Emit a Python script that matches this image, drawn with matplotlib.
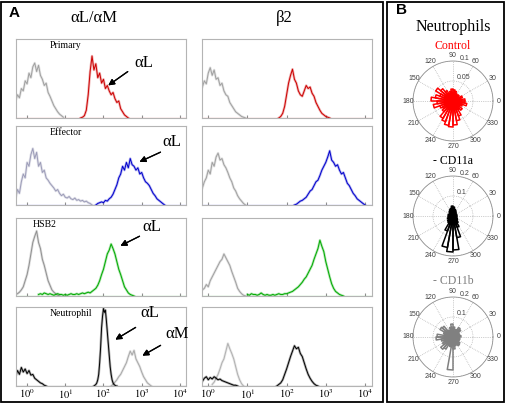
import numpy as np
import matplotlib.pyplot as plt
from matplotlib.patches import Rectangle

plt.rcParams['font.family'] = ['Liberation Serif', 'DejaVu Serif']
plt.rcParams['mathtext.fontset'] = 'stix'

W, H = 506, 403

# ---- flow cytometry histograms: (log10 start, log10 end, counts) ----
# row 1: Primary
prim_iso_L = (-0.3, 0.95, [22, 30, 26, 38, 35, 48, 44, 58, 52, 66, 71, 60, 68, 55, 50, 42, 45, 33, 28, 22, 16, 12, 8, 5, 3, 1])
prim_aL = (1.4, 2.65, [0, 1, 3, 10, 30, 60, 80, 62, 70, 52, 58, 45, 50, 38, 42, 35, 30, 33, 25, 20, 22, 12, 8, 4, 2, 0])
prim_iso_R = (-0.15, 0.95, [40, 48, 44, 58, 65, 55, 62, 50, 52, 42, 45, 35, 30, 28, 20, 16, 12, 8, 6, 4, 2, 1, 0])
prim_b2 = (1.8, 3.1, [0, 2, 6, 15, 30, 45, 55, 63, 50, 45, 35, 30, 28, 35, 42, 38, 40, 32, 28, 20, 15, 10, 6, 4, 2, 1, 0])
# row 2: Effector
eff_iso_L = (-0.3, 1.7, [8, 20, 15, 30, 40, 35, 55, 50, 65, 73, 60, 68, 50, 55, 42, 45, 35, 32, 28, 25, 22, 18, 20, 15, 12,
                         14, 10, 9, 11, 8, 7, 9, 6, 7, 5, 6, 4, 5, 3, 2, 0])
eff_aL = (1.8, 3.6, [0, 2, 3, 4, 3, 6, 5, 8, 10, 14, 20, 26, 35, 40, 50, 45, 55, 48, 60, 52, 50, 45, 48, 40, 42, 35, 30,
                     28, 25, 20, 15, 12, 8, 6, 4, 2, 0])
eff_iso_R = (-0.15, 0.95, [22, 30, 35, 45, 40, 55, 50, 62, 67, 58, 60, 52, 48, 42, 35, 30, 22, 18, 12, 8, 5, 2, 0])
eff_b2 = (2.2, 4.0, [0, 1, 3, 5, 6, 8, 10, 14, 18, 20, 25, 30, 32, 38, 45, 50, 55, 62, 70, 58, 55, 50, 52, 45, 40, 42, 35,
                     28, 25, 20, 15, 12, 8, 6, 4, 2, 0])
# row 3: HSB2
hsb_iso_L = (-0.3, 0.85, [2, 3, 5, 8, 12, 20, 28, 40, 55, 70, 78, 85, 70, 62, 48, 40, 30, 20, 14, 8, 5, 3, 1, 0])
hsb_aL = (0.3, 2.8, [2, 3, 2, 4, 3, 2, 3, 2, 1, 2, 3, 2, 2, 1, 2, 1, 2, 3, 2, 2, 3, 2, 3, 4, 3, 4, 5, 4, 6, 8,
                     10, 14, 20, 28, 35, 45, 55, 60, 68, 62, 55, 45, 35, 28, 20, 12, 8, 4, 2, 1, 0])
hsb_iso_R = (-0.15, 0.95, [8, 10, 15, 12, 20, 25, 30, 35, 40, 45, 48, 55, 50, 45, 40, 32, 25, 18, 10, 6, 3, 1, 0])
hsb_b2 = (1.0, 3.45, [2, 1, 3, 2, 2, 1, 2, 4, 2, 1, 2, 1, 1, 2, 1, 2, 3, 2, 2, 3, 3, 4, 5, 6,
                      8, 10, 12, 15, 18, 22, 25, 30, 35, 40, 48, 55, 62, 73, 65, 58, 45, 35, 25, 16, 10, 6, 4, 2, 1, 0])
# row 4: Neutrophil
neu_iso_L = (-0.3, 0.5, [12, 20, 15, 24, 18, 22, 16, 20, 14, 15, 10, 8, 6, 4, 3, 1, 0])
neu_aL = (1.75, 2.35, [0, 1, 2, 4, 8, 15, 30, 50, 75, 90, 100, 95, 98, 85, 70, 55, 40, 25, 15, 8, 4, 2, 1, 0, 0])
neu_aM = (2.2, 3.25, [0, 2, 5, 8, 12, 15, 20, 25, 30, 38, 45, 40, 46, 35, 30, 25, 18, 12, 8, 4, 2, 0])
neu_iso_R = (-0.15, 0.75, [6, 10, 12, 8, 11, 9, 12, 10, 8, 9, 7, 6, 5, 4, 3, 2, 1, 1, 0])
neu_iso2_R = (0.1, 0.9, [2, 5, 10, 15, 22, 30, 35, 45, 55, 48, 42, 35, 25, 15, 8, 3, 0])
neu_b2 = (1.75, 2.8, [0, 2, 4, 8, 15, 22, 30, 38, 45, 52, 48, 50, 42, 38, 30, 22, 15, 10, 6, 3, 1, 0])

cell_names = ['Primary', 'Effector', 'HSB2', 'Neutrophil']
tick_labels = ['$10^0$', '$10^1$', '$10^2$', '$10^3$', '$10^4$']

# ---- rose plots (36 bins of 10 deg, from 0 deg) ----
rose_control = [0.03, 0.02, 0.025, 0.015, 0.02, 0.018, 0.02, 0.025, 0.028, 0.03, 0.025, 0.02, 0.03, 0.04, 0.05, 0.035,
                0.045, 0.055, 0.04, 0.05, 0.035, 0.03, 0.035, 0.05, 0.055, 0.062, 0.065, 0.06, 0.05, 0.04, 0.025, 0.03,
                0.02, 0.025, 0.035, 0.03]
rose_cd11a = [0.02, 0.015, 0.02, 0.015, 0.02, 0.025, 0.03, 0.035, 0.045, 0.05, 0.04, 0.035, 0.03, 0.025, 0.02, 0.02,
              0.025, 0.02, 0.025, 0.02, 0.03, 0.025, 0.035, 0.04, 0.08, 0.16, 0.18, 0.17, 0.11, 0.06, 0.04, 0.03,
              0.025, 0.02, 0.02, 0.015]
rose_cd11b = [0.04, 0.035, 0.03, 0.035, 0.05, 0.055, 0.04, 0.03, 0.05, 0.065, 0.05, 0.035, 0.04, 0.07, 0.075, 0.05,
              0.045, 0.08, 0.085, 0.06, 0.05, 0.06, 0.08, 0.07, 0.045, 0.05, 0.165, 0.06, 0.045, 0.04, 0.05, 0.045,
              0.03, 0.035, 0.035, 0.03]
angle_ticks = list(range(0, 360, 30))


def px(x, y):
    return x / W, 1 - y / H


def box(x0, y0, x1, y1):
    return [x0 / W, 1 - y1 / H, (x1 - x0) / W, (y1 - y0) / H]


fig = plt.figure(figsize=(W / 100, H / 100), dpi=100)

# panel frames
for (x0, y0, x1, y1) in [(1.5, 1.5, 383, 401.5), (387, 1.5, 504.5, 401.5)]:
    fig.patches.append(Rectangle((x0 / W, 1 - y1 / H), (x1 - x0) / W, (y1 - y0) / H,
                                 transform=fig.transFigure, fill=False, lw=1.3, ec='k'))

fig.text(*px(9, 13), 'A', family='Liberation Sans', weight='bold', fontsize=11, va='center')
fig.text(*px(396, 10), 'B', family='Liberation Sans', weight='bold', fontsize=11, va='center')
fig.text(*px(94, 18), 'αL/αM', fontsize=12, ha='center', va='center')
fig.text(*px(284, 18), 'β2', fontsize=12, ha='center', va='center')

rows = [(39, 118), (126, 205), (218, 296), (307, 386)]
left_curves = [[(prim_iso_L, '#a0a0a0'), (prim_aL, '#cc0000')],
               [(eff_iso_L, '#9c9cb8'), (eff_aL, '#0000cc')],
               [(hsb_iso_L, '#909090'), (hsb_aL, '#00aa00')],
               [(neu_iso_L, '#000000'), (neu_aM, '#a8a8a8'), (neu_aL, '#000000')]]
right_curves = [[(prim_iso_R, '#a0a0a0'), (prim_b2, '#cc0000')],
                [(eff_iso_R, '#a0a0a0'), (eff_b2, '#0000cc')],
                [(hsb_iso_R, '#a0a0a0'), (hsb_b2, '#00aa00')],
                [(neu_iso2_R, '#b0b0b0'), (neu_iso_R, '#000000'), (neu_b2, '#000000')]]
base_colors = ['#cc0000', '#0000cc', '#00aa00', '#000000']

for i, (t, b) in enumerate(rows):
    for col, (x0, x1, lim, curves) in enumerate([(16, 186, (-0.29, 4.16), left_curves[i]),
                                                 (202, 372, (-0.16, 4.18), right_curves[i])]):
        ax = fig.add_axes(box(x0, t, x1, b))
        ax.axhline(0, color=base_colors[i], lw=0.8)
        for (lo, hi, vals), c in curves:
            xs = np.linspace(lo, hi, len(vals))
            ax.plot(xs, vals, color=c, lw=1.8, alpha=0.3)
            ax.plot(xs, vals, color=c, lw=0.7)
        ax.set_xlim(*lim)
        ax.set_ylim(0, 102)
        ax.set_yticks([])
        ax.set_xticks(range(5))
        ax.tick_params(axis='x', length=2, direction='in', color='#909090', pad=1, labelsize=7.5)
        if i == 3:
            ax.set_xticklabels(tick_labels)
        else:
            ax.set_xticklabels([])
        for s in ax.spines.values():
            s.set_color('#b4b4b4')
            s.set_linewidth(0.8)
        if col == 0:
            ax.text(0.1 if i == 2 else 0.2, 0.88, cell_names[i], transform=ax.transAxes, fontsize=7)

# arrows and labels
def arrow(tail, head):
    fig.add_artist(plt.annotate('', xy=px(*head), xytext=px(*tail), xycoords='figure fraction',
                                arrowprops=dict(arrowstyle='-|>', lw=0.9, color='k', mutation_scale=9)))

for (tx, ty), tail, head, lab in [((144, 63), (130, 70), (106, 87), 'αL'),
                                  ((172, 142), (163, 151), (137, 163), 'αL'),
                                  ((152, 227), (142, 235), (118, 247), 'αL'),
                                  ((150, 313), (138, 326), (113, 341), 'αL'),
                                  ((177, 334), (163, 344), (140, 357), 'αM')]:
    fig.text(*px(tx, ty), lab, fontsize=12, ha='center', va='center')
    arrow(tail, head)

# rose plots
fig.text(*px(453, 27), 'Neutrophils', fontsize=11.5, ha='center', va='center')
roses = [(rose_control, 101, 0.1, [0.05, 0.1], 'Control', '#ff0000', 46),
         (rose_cd11a, 216, 0.2, [0.1, 0.2], '- CD11a', '#000000', 161),
         (rose_cd11b, 337, 0.2, [0.1, 0.2], '- CD11b', '#808080', 281)]
edges = np.deg2rad(np.arange(0, 370, 10))
for vals, cy, rmax, rt, name, c, ly in roses:
    fig.text(*px(453, ly), name, fontsize=8.5, color=c, ha='center', va='center')
    r = 40
    ax = fig.add_axes(box(453 - r, cy - r, 453 + r, cy + r), projection='polar')
    for k, v in enumerate(vals):
        ax.plot([0, edges[k], edges[k + 1], 0], [0, v, v, 0], color=c, lw=1.1)
    ax.set_ylim(0, rmax)
    ax.set_rticks(rt)
    ax.set_yticklabels([])
    ax.set_xticks(np.deg2rad(angle_ticks))
    ax.set_xticklabels([])
    lab_kw = dict(fontsize=5, color='#404040', family='Liberation Sans', clip_on=False)
    for v in rt:
        ax.text(np.deg2rad(80), v, str(v), ha='left', va='bottom', **lab_kw)
    for a in angle_ticks:
        ax.text(np.deg2rad(a), rmax * 1.13, str(a), ha='center', va='center', **lab_kw)
    ax.grid(True, ls=':', lw=0.5, color='#a0a0a0')
    ax.spines['polar'].set_color('#909090')
    ax.spines['polar'].set_linewidth(0.6)

fig.savefig('out.png', dpi=100)
